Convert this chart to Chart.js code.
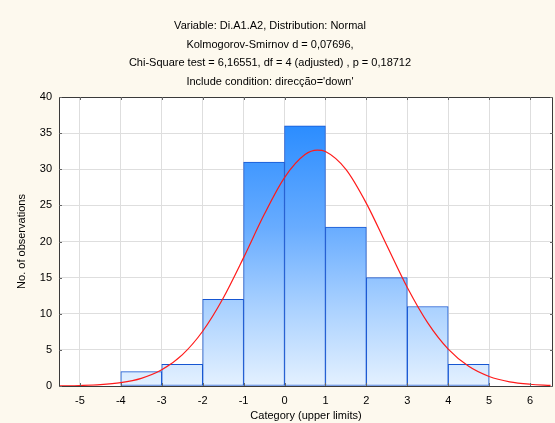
<!DOCTYPE html>
<html>
<head>
<meta charset="utf-8">
<script src="https://cdn.jsdelivr.net/npm/chart.js@4"></script>
<style>
  html, body { margin: 0; padding: 0; background: #fdf9ee; }
  #wrap { width: 555px; height: 423px; }
</style>
</head>
<body>
<div id="wrap"><canvas id="histChart" width="555" height="423"></canvas></div>
<script>
// histogram classes (upper limits) and counts
const upperLimits = [-3, -2, -1, 0, 1, 2, 3, 4, 5];
const counts = [2, 3, 12, 31, 36, 22, 15, 11, 3];

// fitted normal curve, expected counts read at x
const curveX = [-5.5, -5, -4.5, -4, -3.5, -3, -2.5, -2, -1.5, -1, -0.5, 0, 0.5, 0.8, 1, 1.5, 2, 2.5, 3, 3.5, 4, 4.5, 5, 5.5, 6, 6.5];
const curveY = [0.02, 0.07, 0.18, 0.46, 1.06, 2.24, 4.31, 7.58, 12.15, 17.77, 23.7, 28.85, 32.03, 32.64, 32.45, 29.98, 25.28, 19.44, 13.63, 8.73, 5.1, 2.72, 1.32, 0.58, 0.24, 0.09];

const xTicks = [-5, -4, -3, -2, -1, 0, 1, 2, 3, 4, 5, 6];
const yTicks = [0, 5, 10, 15, 20, 25, 30, 35, 40];

const titleLines = [
  'Variable: Di.A1.A2, Distribution: Normal',
  'Kolmogorov-Smirnov d = 0,07696,',
  'Chi-Square test = 6,16551, df = 4 (adjusted) , p = 0,18712',
  "Include condition: direcção='down'"
];

const FONT = '"Liberation Sans", Arial, sans-serif';

const barPoints = counts.map((c, i) => ({ x: upperLimits[i] - 0.5, y: c }));
const curvePoints = curveX.map((x, i) => ({ x: x, y: curveY[i] }));

// page background, white plot area, frame, inward ticks and title lines
const framePlugin = {
  id: 'frame',
  beforeDraw(chart) {
    const { ctx, chartArea: a } = chart;
    ctx.save();
    ctx.fillStyle = '#fdf9ee';
    ctx.fillRect(0, 0, chart.width, chart.height);
    ctx.fillStyle = '#ffffff';
    ctx.fillRect(a.left, a.top, a.right - a.left, a.bottom - a.top);
    ctx.restore();
  },
  afterDraw(chart) {
    const { ctx, chartArea: a, scales } = chart;
    ctx.save();
    ctx.strokeStyle = '#3a3a3a';
    ctx.lineWidth = 1;
    ctx.strokeRect(Math.round(a.left) + 0.5, Math.round(a.top) + 0.5,
      Math.round(a.right - a.left) - 1, Math.round(a.bottom - a.top));
    ctx.strokeStyle = '#666';
    ctx.beginPath();
    xTicks.forEach(v => {
      const px = Math.round(scales.x.getPixelForValue(v)) + 0.5;
      ctx.moveTo(px, a.top); ctx.lineTo(px, a.top + 3);
      ctx.moveTo(px, a.bottom); ctx.lineTo(px, a.bottom - 3);
    });
    yTicks.forEach(v => {
      const py = Math.round(scales.y.getPixelForValue(v)) + 0.5;
      ctx.moveTo(a.left, py); ctx.lineTo(a.left + 3, py);
      ctx.moveTo(a.right, py); ctx.lineTo(a.right - 3, py);
    });
    ctx.stroke();
    ctx.fillStyle = '#000';
    ctx.font = '11px ' + FONT;
    ctx.textAlign = 'center';
    ctx.textBaseline = 'middle';
    titleLines.forEach((t, i) => ctx.fillText(t, 270, 26 + i * 18.7));
    ctx.restore();
  }
};

const ctx = document.getElementById('histChart').getContext('2d');

new Chart(ctx, {
  data: {
    datasets: [
      {
        type: 'line',
        data: curvePoints,
        borderColor: '#ff1a1a',
        borderWidth: 1.2,
        pointRadius: 0,
        cubicInterpolationMode: 'monotone',
        order: 0
      },
      {
        type: 'bar',
        data: barPoints,
        backgroundColor: function(context) {
          const a = context.chart.chartArea;
          if (!a) return '#8fc2ff';
          const g = context.chart.ctx.createLinearGradient(0, a.top, 0, a.bottom);
          g.addColorStop(0, '#1a84ff');
          g.addColorStop(0.45, '#68acff');
          g.addColorStop(0.72, '#a8d0ff');
          g.addColorStop(1, '#e4f1ff');
          return g;
        },
        borderColor: '#1656d2',
        borderWidth: 1,
        borderSkipped: false,
        barPercentage: 1,
        categoryPercentage: 1,
        order: 1
      }
    ]
  },
  options: {
    responsive: false,
    animation: false,
    layout: { padding: { top: 97, right: 2, left: 0, bottom: 0 } },
    plugins: {
      legend: { display: false },
      tooltip: { enabled: false },
      title: { display: false }
    },
    scales: {
      x: {
        type: 'linear',
        offset: false,
        min: -5.51,
        max: 6.56,
        afterBuildTicks: scale => { scale.ticks = xTicks.map(v => ({ value: v })); },
        afterFit: scale => { scale.height = 37; },
        grid: { color: '#dedede', drawTicks: false, offset: false },
        border: { display: false },
        ticks: { color: '#000', padding: 8, font: { family: FONT, size: 11 } },
        title: {
          display: true,
          text: 'Category (upper limits)',
          color: '#000',
          padding: { top: 1, bottom: 0 },
          font: { family: FONT, size: 11 }
        }
      },
      y: {
        min: 0,
        max: 40,
        afterBuildTicks: scale => { scale.ticks = yTicks.map(v => ({ value: v })); },
        afterFit: scale => { scale.width = 59; },
        grid: { color: '#dedede', drawTicks: false },
        border: { display: false },
        ticks: { color: '#000', padding: 7, font: { family: FONT, size: 11 } },
        title: {
          display: true,
          text: 'No. of observations',
          color: '#000',
          padding: { top: 15, bottom: 0 },
          font: { family: FONT, size: 11 }
        }
      }
    }
  },
  plugins: [framePlugin]
});
</script>
</body>
</html>
